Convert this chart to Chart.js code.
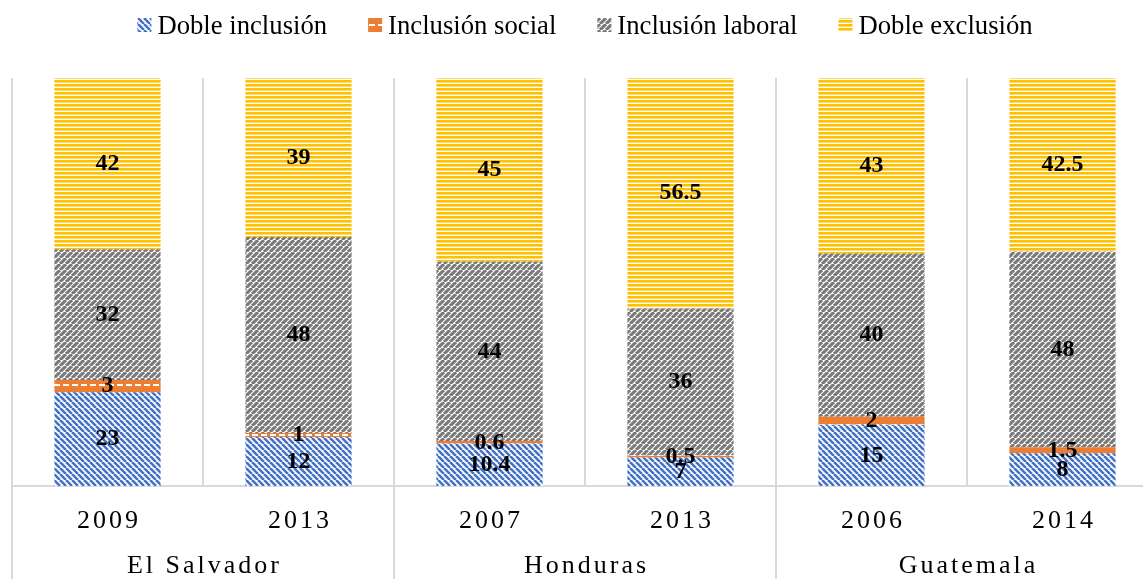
<!DOCTYPE html>
<html>
<head>
<meta charset="utf-8">
<script src="https://cdn.jsdelivr.net/npm/chart.js@4.4.1/dist/chart.umd.min.js"></script>
<style>
  html, body { margin: 0; padding: 0; background: #fff; overflow: hidden; }
  #wrap { width: 1170px; height: 579px; position: relative; }
</style>
</head>
<body>
<div id="wrap"><canvas id="chart"></canvas></div>
<script>
/* ── Data ─────────────────────────────────────── */
const years     = ['2009', '2013', '2007', '2013', '2006', '2014'];
const countries = ['El Salvador', 'Honduras', 'Guatemala'];
const countryOf = [0, 0, 1, 1, 2, 2];

const seriesNames = ['Doble inclusión', 'Inclusión social', 'Inclusión laboral', 'Doble exclusión'];
const dobleInclusion   = [23, 12, 10.4, 7, 15, 8];
const inclusionSocial  = [3, 1, 0.6, 0.5, 2, 1.5];
const inclusionLaboral = [32, 48, 44, 36, 40, 48];
const dobleExclusion   = [42, 39, 45, 56.5, 43, 42.5];

/* ── Pattern fills ────────────────────────────── */
function diagPattern(color, size, width, dir) {
  const c = document.createElement('canvas');
  c.width = c.height = size;
  const g = c.getContext('2d');
  g.fillStyle = '#fff';
  g.fillRect(0, 0, size, size);
  g.strokeStyle = color;
  g.lineWidth = width;
  g.beginPath();
  [-size, 0, size].forEach(k => {
    if (dir === 'down') { g.moveTo(k, 0); g.lineTo(k + size, size); }
    else { g.moveTo(k, size); g.lineTo(k + size, 0); }
  });
  g.stroke();
  return g.createPattern(c, 'repeat');
}
function hLinePattern(color) {
  const c = document.createElement('canvas');
  c.width = 4; c.height = 4;
  const g = c.getContext('2d');
  g.fillStyle = '#fff'; g.fillRect(0, 0, 4, 4);
  g.fillStyle = color; g.fillRect(0, 0, 4, 2.6);
  return g.createPattern(c, 'repeat');
}
function dashPattern(color) {
  const c = document.createElement('canvas');
  c.width = 9; c.height = 10;
  const g = c.getContext('2d');
  g.fillStyle = color; g.fillRect(0, 0, 9, 10);
  g.fillStyle = '#fff'; g.fillRect(0, 4, 6, 2);
  return g.createPattern(c, 'repeat');
}

const fills = [
  diagPattern('#4472C4', 6, 2.6, 'down'),
  dashPattern('#ED7D31'),
  diagPattern('#7A7A7A', 6, 3.2, 'up'),
  hLinePattern('#FFC000'),
];

/* ── Plugins ──────────────────────────────────── */
const legendPlugin = {
  id: 'topLegend',
  afterDraw(chart) {
    const ctx = chart.ctx;
    const area = chart.chartArea;
    ctx.save();
    ctx.font = '26.7px "Liberation Serif"';
    const widths = seriesNames.map(n => ctx.measureText(n).width);
    const box = 14, gap = 6, itemGap = 41;
    const total = widths.reduce((s, w) => s + box + gap + w, 0) + itemGap * (seriesNames.length - 1);
    let x = (area.left + area.right) / 2 - total / 2;
    ctx.textBaseline = 'alphabetic';
    ctx.textAlign = 'left';
    seriesNames.forEach((n, i) => {
      ctx.fillStyle = fills[i];
      ctx.fillRect(x, 18, box, box);
      ctx.fillStyle = '#000';
      ctx.fillText(n, x + box + gap, 34);
      x += box + gap + widths[i] + itemGap;
    });
    ctx.restore();
  }
};

const valueLabels = {
  id: 'valueLabels',
  afterDatasetsDraw(chart) {
    const ctx = chart.ctx;
    ctx.save();
    ctx.font = 'bold 24px "Liberation Serif"';
    ctx.fillStyle = '#000';
    ctx.textAlign = 'center';
    ctx.textBaseline = 'middle';
    chart.data.datasets.forEach((ds, di) => {
      chart.getDatasetMeta(di).data.forEach((el, i) => {
        ctx.fillText(String(ds.data[i]), el.x, (el.y + el.base) / 2);
      });
    });
    ctx.restore();
  }
};

const axisLabels = {
  id: 'axisLabels',
  afterDraw(chart) {
    const ctx = chart.ctx;
    const xs = chart.scales.x;
    const bottom = chart.chartArea.bottom;
    const half = (xs.getPixelForValue(1) - xs.getPixelForValue(0)) / 2;
    ctx.save();
    ctx.fillStyle = '#000';
    ctx.textAlign = 'center';
    ctx.textBaseline = 'middle';
    ctx.font = '26px "Liberation Serif"';
    ctx.letterSpacing = '3px';
    years.forEach((y, i) => ctx.fillText(y, xs.getPixelForValue(i) + 1.5, 521));

    // country groups
    ctx.strokeStyle = '#d9d9d9';
    ctx.lineWidth = 2;
    countries.forEach((c, ci) => {
      const idx = countryOf.map((v, i) => v === ci ? i : -1).filter(i => i >= 0);
      const left = xs.getPixelForValue(idx[0]) - half;
      const right = xs.getPixelForValue(idx[idx.length - 1]) + half;
      ctx.fillText(c, (left + right) / 2 + 1.5, 566);
      [left, right].forEach(px => {
        ctx.beginPath();
        ctx.moveTo(px, bottom);
        ctx.lineTo(px, chart.height);
        ctx.stroke();
      });
    });
    ctx.restore();
  }
};

/* ── Chart ────────────────────────────────────── */
const seriesData = [dobleInclusion, inclusionSocial, inclusionLaboral, dobleExclusion];

new Chart(document.getElementById('chart'), {
  type: 'bar',
  data: {
    labels: years,
    datasets: seriesData.map((d, i) => ({
      label: seriesNames[i],
      data: d,
      backgroundColor: fills[i],
      borderWidth: 0,
      categoryPercentage: 1,
      barPercentage: 0.556,
    }))
  },
  options: {
    responsive: true,
    maintainAspectRatio: false,
    animation: false,
    layout: { padding: { left: 12, right: 12, top: 78, bottom: 93 } },
    scales: {
      x: {
        stacked: true,
        ticks: { display: false },
        grid: { color: '#d9d9d9', lineWidth: 2, drawTicks: false, offset: true },
        border: { display: true, color: '#d9d9d9', width: 2 },
      },
      y: {
        stacked: true,
        display: false,
        min: 0, max: 100,
      }
    },
    plugins: {
      legend: { display: false },
      tooltip: { enabled: false },
    }
  },
  plugins: [legendPlugin, valueLabels, axisLabels]
});
</script>
</body>
</html>
